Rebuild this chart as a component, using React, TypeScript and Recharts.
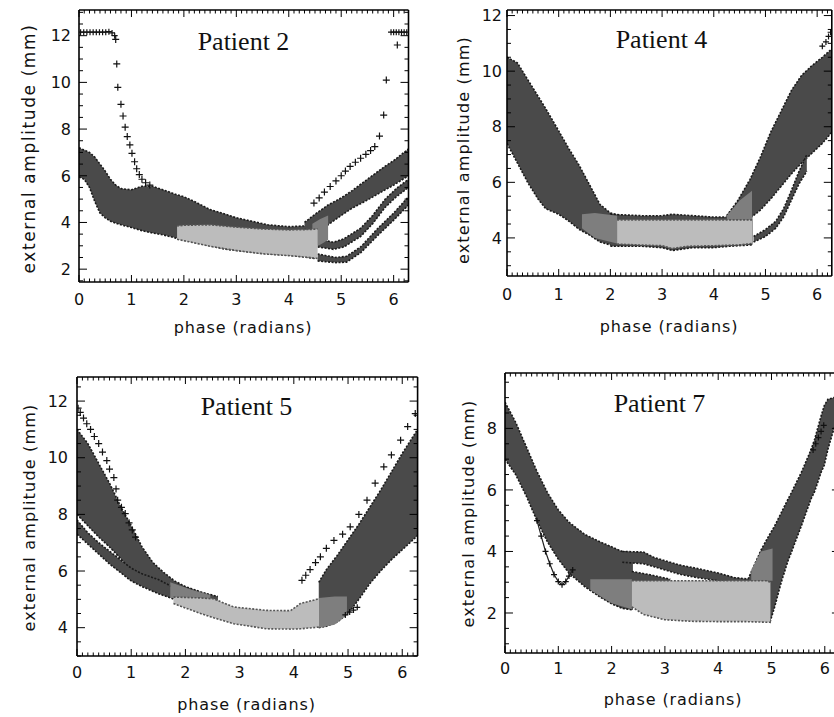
import React from "react";
import { ComposedChart, Area, Scatter, XAxis, YAxis } from "recharts";

// [phase, low, high] rows for the filled bands, [phase, amplitude] for loose crosses
type Row = [number, number, number];
type Pt = [number, number];

const FULL = 6.2832;
const X_LABELS = [0, 1, 2, 3, 4, 5, 6];

// ---------- Patient 2 ----------
const P2_Y_LABELS = [2, 4, 6, 8, 10, 12];
const P2_MAIN: Row[] = [
  [0, 5.95, 7.2], [0.1, 5.85, 7.1], [0.2, 5.5, 7.0], [0.3, 4.9, 6.8], [0.4, 4.4, 6.5],
  [0.5, 4.2, 6.2], [0.6, 4.05, 5.85], [0.7, 3.97, 5.6], [0.8, 3.9, 5.45], [1.0, 3.78, 5.4],
  [1.2, 3.65, 5.55], [1.4, 3.55, 5.55], [1.6, 3.47, 5.4], [1.85, 3.33, 5.2], [2.0, 3.25, 5.1],
  [2.2, 3.15, 4.9], [2.5, 3.0, 4.55], [2.8, 2.85, 4.35], [3.0, 2.8, 4.2], [3.3, 2.72, 4.05],
  [3.6, 2.65, 3.9], [4.0, 2.6, 3.82], [4.3, 2.52, 3.85], [4.5, 2.45, 3.95],
];
const P2_RB: Row[] = [
  [4.3, 3.7, 4.0], [4.5, 3.6, 4.35], [4.75, 3.9, 4.75], [5.0, 4.3, 5.05], [5.2, 4.6, 5.35],
  [5.5, 4.96, 5.85], [5.8, 5.35, 6.35], [6.0, 5.6, 6.65], [6.2832, 6.0, 7.15],
];
const P2_RC: Row[] = [
  [4.55, 2.95, 3.3], [4.85, 2.85, 3.15], [5.05, 2.95, 3.3], [5.37, 3.4, 3.75], [5.6, 3.95, 4.3],
  [5.84, 4.65, 5.0], [6.05, 5.1, 5.45], [6.2832, 5.5, 5.85],
];
const P2_RD: Row[] = [
  [4.55, 2.35, 2.65], [4.9, 2.28, 2.5], [5.1, 2.3, 2.55], [5.37, 2.7, 2.95], [5.7, 3.45, 3.75],
  [6.0, 4.1, 4.4], [6.2832, 4.75, 5.1],
];
const P2_MID: Row[] = [[4.45, 2.95, 3.95], [4.6, 3.05, 4.15], [4.75, 3.25, 4.3]];
const P2_LIGHT: Row[] = [
  [1.87, 3.28, 3.85], [2.0, 3.22, 3.88], [2.5, 2.98, 3.9], [3.0, 2.8, 3.8], [3.5, 2.66, 3.72],
  [4.0, 2.58, 3.68], [4.4, 2.5, 3.7], [4.55, 2.46, 3.72],
];
const P2_TOP_LEFT: Pt[] = [
  [0.03, 12.15], [0.09, 12.15], [0.15, 12.15], [0.21, 12.15], [0.27, 12.15], [0.33, 12.15],
  [0.39, 12.15], [0.45, 12.15], [0.51, 12.15], [0.57, 12.17], [0.63, 12.12], [0.68, 12.0],
];
const P2_LEFT_DROP: Pt[] = [
  [0.7, 11.84], [0.72, 10.79], [0.74, 9.79], [0.8, 9.06], [0.84, 8.56], [0.88, 8.08],
  [0.92, 7.68], [0.97, 7.32], [1.01, 6.96], [1.06, 6.6], [1.1, 6.3], [1.15, 6.05],
  [1.2, 5.85], [1.27, 5.7], [1.35, 5.6],
];
const P2_RIGHT_RISE: Pt[] = [
  [4.48, 4.83], [4.58, 5.05], [4.68, 5.3], [4.79, 5.54], [4.9, 5.78], [5.0, 6.0], [5.08, 6.2],
  [5.17, 6.4], [5.27, 6.58], [5.37, 6.75], [5.47, 6.92], [5.56, 7.08], [5.64, 7.25],
  [5.73, 7.7], [5.81, 8.6], [5.86, 10.1], [6.07, 11.6],
];
const P2_TOP_RIGHT: Pt[] = [
  [5.95, 12.15], [6.0, 12.15], [6.05, 12.15], [6.1, 12.15], [6.15, 12.15], [6.2, 12.15], [6.25, 12.15],
];

// ---------- Patient 4 ----------
const P4_Y_LABELS = [4, 6, 8, 10, 12];
const P4_LEFT: Row[] = [
  [0, 7.4, 10.5], [0.2, 6.7, 10.3], [0.4, 6.0, 9.7], [0.6, 5.4, 9.1], [0.75, 5.05, 8.65],
  [1.0, 4.85, 7.85], [1.2, 4.6, 7.2], [1.4, 4.3, 6.6], [1.6, 4.1, 5.9], [1.8, 3.85, 5.2],
  [2.0, 3.75, 4.9], [2.2, 3.75, 4.8],
];
const P4_BOTTOM: Row[] = [
  [2.0, 3.7, 4.85], [2.6, 3.7, 4.8], [3.0, 3.65, 4.8], [3.2, 3.55, 4.85], [3.6, 3.65, 4.8],
  [4.0, 3.65, 4.75], [4.3, 3.7, 4.75], [4.75, 3.75, 4.7],
];
const P4_RIGHT: Row[] = [
  [4.25, 4.7, 4.8], [4.45, 4.7, 5.3], [4.7, 4.7, 6.1], [4.9, 5.0, 6.9], [5.1, 5.4, 7.8],
  [5.3, 5.85, 8.55], [5.5, 6.3, 9.3], [5.7, 6.7, 9.85], [5.9, 7.05, 10.2], [6.1, 7.4, 10.5],
  [6.2832, 7.8, 10.8],
];
const P4_RLOW: Row[] = [
  [4.77, 3.85, 4.05], [5.0, 4.05, 4.3], [5.2, 4.35, 4.6], [5.35, 4.75, 5.05], [5.5, 5.35, 5.7],
  [5.65, 5.95, 6.4], [5.8, 6.4, 7.0],
];
const P4_MIDL: Row[] = [[1.45, 4.35, 4.85], [1.7, 4.0, 4.9], [2.13, 3.8, 4.8]];
const P4_MIDR: Row[] = [[4.25, 4.65, 4.8], [4.5, 4.65, 5.35], [4.74, 4.65, 5.7]];
const P4_LIGHT: Row[] = [
  [2.13, 3.78, 4.65], [2.5, 3.75, 4.65], [3.0, 3.72, 4.65], [3.2, 3.62, 4.65], [3.5, 3.7, 4.65],
  [4.0, 3.72, 4.65], [4.5, 3.75, 4.65], [4.74, 3.8, 4.65],
];
const P4_TOP_RIGHT: Pt[] = [[6.1, 10.9], [6.17, 11.05], [6.22, 11.25], [6.26, 11.4]];

// ---------- Patient 5 ----------
const P5_Y_LABELS = [4, 6, 8, 10, 12];
const P5_UP: Row[] = [
  [0, 8.0, 11.0], [0.2, 7.6, 10.5], [0.4, 7.2, 9.8], [0.6, 6.85, 9.1], [0.8, 6.45, 8.3],
  [1.0, 6.0, 7.6], [1.2, 5.7, 6.85], [1.4, 5.45, 6.3], [1.6, 5.3, 5.95], [1.8, 5.15, 5.65],
  [2.0, 5.1, 5.45], [2.3, 5.0, 5.25], [2.6, 4.95, 5.1],
];
const P5_LOW: Row[] = [
  [0, 7.3, 7.8], [0.2, 6.95, 7.35], [0.4, 6.6, 7.0], [0.6, 6.25, 6.7], [0.8, 5.95, 6.4],
  [1.0, 5.65, 6.1], [1.2, 5.45, 5.9], [1.5, 5.2, 5.7], [1.8, 5.0, 5.4],
];
const P5_RIGHT: Row[] = [
  [4.46, 4.0, 5.6], [4.6, 4.05, 6.05], [4.8, 4.2, 6.55], [5.0, 4.5, 7.1], [5.2, 5.0, 7.65],
  [5.4, 5.55, 8.25], [5.6, 6.0, 8.85], [5.8, 6.4, 9.5], [6.0, 6.75, 10.15], [6.2832, 7.25, 11.0],
];
const P5_MIDL: Row[] = [[1.72, 5.05, 5.6], [2.1, 5.05, 5.35], [2.46, 5.02, 5.15]];
const P5_MIDR: Row[] = [[4.46, 4.0, 5.05], [4.75, 4.1, 5.1], [4.98, 4.45, 5.1]];
const P5_LIGHT: Row[] = [
  [1.78, 4.85, 5.08], [2.28, 4.5, 5.05], [2.52, 4.35, 5.02], [2.89, 4.14, 4.73], [3.5, 3.96, 4.61],
  [3.94, 3.95, 4.6], [4.12, 3.96, 4.85], [4.46, 4.02, 5.02],
];
const P5_LEFT_FRINGE: Pt[] = [
  [0.02, 11.75], [0.06, 11.6], [0.12, 11.4], [0.18, 11.2], [0.25, 11.0], [0.32, 10.75],
  [0.4, 10.5], [0.47, 10.2], [0.55, 9.9], [0.6, 9.6], [0.68, 9.3], [0.72, 8.9], [0.75, 8.5],
  [0.82, 8.25], [0.89, 8.03], [0.96, 7.7], [1.02, 7.45], [1.08, 7.2],
];
const P5_RIGHT_FRINGE: Pt[] = [
  [4.15, 5.67], [4.22, 5.85], [4.3, 6.05], [4.4, 6.3], [4.49, 6.5], [4.6, 6.8], [4.74, 7.08],
  [4.9, 7.3], [5.04, 7.56], [5.2, 8.0], [5.35, 8.5], [5.5, 9.1], [5.66, 9.68], [5.8, 10.1],
  [5.97, 10.62], [6.1, 11.1], [6.24, 11.56],
];
const P5_LOW_FRINGE: Pt[] = [[4.95, 4.45], [5.03, 4.55], [5.1, 4.62], [5.17, 4.72]];

// ---------- Patient 7 ----------
const P7_Y_LABELS = [2, 4, 6, 8];
const P7_MAIN: Row[] = [
  [0, 7.0, 8.85], [0.2, 6.5, 8.2], [0.4, 5.8, 7.4], [0.6, 5.0, 6.6], [0.8, 4.3, 5.9],
  [1.0, 3.75, 5.35], [1.2, 3.3, 4.95], [1.5, 2.85, 4.55], [1.8, 2.5, 4.3], [2.0, 2.3, 4.15],
  [2.2, 2.15, 4.0], [2.4, 2.1, 3.95],
];
const P7_THIN: Row[] = [
  [2.2, 3.65, 4.0], [2.6, 3.6, 3.98], [2.8, 3.5, 3.8], [3.0, 3.4, 3.7], [3.3, 3.25, 3.55],
  [3.6, 3.15, 3.45], [4.0, 3.05, 3.3], [4.3, 3.0, 3.15], [4.6, 2.95, 3.1],
];
const P7_STRIP: Row[] = [[2.38, 3.0, 3.35], [2.7, 3.0, 3.25], [3.1, 3.0, 3.1]];
const P7_RIGHT: Row[] = [
  [4.56, 3.0, 3.1], [4.81, 2.9, 4.07], [4.98, 1.75, 4.6], [5.06, 2.2, 4.83], [5.18, 2.98, 5.25],
  [5.31, 3.7, 5.7], [5.37, 3.96, 5.9], [5.56, 4.83, 6.57], [5.74, 5.7, 7.3], [5.81, 5.95, 7.65],
  [5.93, 6.57, 8.4], [5.99, 6.8, 8.74], [6.06, 7.33, 8.95], [6.17, 7.98, 9.0], [6.2832, 8.5, 9.0],
];
const P7_MIDL: Row[] = [[1.6, 2.75, 3.1], [2.0, 2.32, 3.1], [2.38, 2.12, 3.1]];
const P7_MIDR: Row[] = [[4.62, 3.05, 3.4], [4.8, 3.05, 4.0], [5.02, 3.05, 4.1]];
const P7_LIGHT: Row[] = [
  [2.38, 2.2, 3.05], [2.6, 1.95, 3.05], [3.0, 1.78, 3.05], [3.5, 1.73, 3.05], [4.0, 1.72, 3.05],
  [4.5, 1.72, 3.05], [4.9, 1.7, 3.05], [4.98, 1.7, 3.0],
];
const P7_LOOP: Pt[] = [
  [0.6, 5.0], [0.68, 4.5], [0.76, 4.0], [0.84, 3.6], [0.92, 3.25], [1.0, 3.02], [1.07, 2.92],
  [1.14, 3.02], [1.2, 3.2], [1.27, 3.4],
];
const P7_RIGHT_LOOSE: Pt[] = [[5.78, 7.3], [5.83, 7.5], [5.88, 7.7], [5.93, 7.9], [5.98, 8.1]];

const DARK = "#4a4a4a";
const MID = "#7e7e7e";
const LIGHT = "#bcbcbc";
const INK = "#111";
const TICK_FONT = "'DejaVu Sans', sans-serif";

const steps = (from: number, to: number, step: number) => {
  const out: number[] = [];
  for (let v = from; v <= to + 1e-9; v += step) out.push(Math.round(v * 100) / 100);
  return out;
};

const X_ALL = steps(0, 6.2, 0.1);
const has = (list: number[], v: number) => list.some((m) => Math.abs(m - v) < 1e-6);

type Band = { rows: Row[]; fill: string; edge: string };
type Marks = { pts: Pt[]; size: number; line?: boolean };
type Panel = {
  key: string;
  box: { left: number; top: number; w: number; h: number };
  yDomain: [number, number];
  yLabels: number[];
  yMinorFrom: number;
  bands: Band[];
  marks: Marks[];
  xGap: number;
  yGap: number;
};

const dark = (rows: Row[]): Band => ({ rows, fill: DARK, edge: "#1a1a1a" });
const mid = (rows: Row[]): Band => ({ rows, fill: MID, edge: "none" });
const light = (rows: Row[]): Band => ({ rows, fill: LIGHT, edge: "#555" });

const PANELS: Panel[] = [
  {
    key: "p2",
    box: { left: 78.5, top: 10, w: 329.5, h: 272 },
    yDomain: [1.45, 13.1],
    yLabels: P2_Y_LABELS,
    yMinorFrom: 1.5,
    bands: [dark(P2_MAIN), dark(P2_RB), dark(P2_RC), dark(P2_RD), mid(P2_MID), light(P2_LIGHT)],
    marks: [
      { pts: P2_TOP_LEFT, size: 3 },
      { pts: P2_LEFT_DROP, size: 3.5 },
      { pts: P2_RIGHT_RISE, size: 3.5 },
      { pts: P2_TOP_RIGHT, size: 3 },
    ],
    xGap: 12,
    yGap: 8,
  },
  {
    key: "p4",
    box: { left: 506.7, top: 10, w: 324.8, h: 266 },
    yDomain: [2.63, 12.2],
    yLabels: P4_Y_LABELS,
    yMinorFrom: 3,
    bands: [dark(P4_LEFT), dark(P4_BOTTOM), dark(P4_RIGHT), dark(P4_RLOW), mid(P4_MIDL), mid(P4_MIDR), light(P4_LIGHT)],
    marks: [{ pts: P4_TOP_RIGHT, size: 3 }],
    xGap: 13,
    yGap: 5,
  },
  {
    key: "p5",
    box: { left: 76.8, top: 377, w: 340.6, h: 279 },
    yDomain: [3.0, 12.85],
    yLabels: P5_Y_LABELS,
    yMinorFrom: 3,
    bands: [dark(P5_UP), dark(P5_LOW), dark(P5_RIGHT), mid(P5_MIDL), mid(P5_MIDR), light(P5_LIGHT)],
    marks: [
      { pts: P5_LEFT_FRINGE, size: 3.5 },
      { pts: P5_RIGHT_FRINGE, size: 3.5 },
      { pts: P5_LOW_FRINGE, size: 3 },
    ],
    xGap: 11,
    yGap: 9,
  },
  {
    key: "p7",
    box: { left: 505.3, top: 373, w: 334.9, h: 280 },
    yDomain: [0.7, 9.8],
    yLabels: P7_Y_LABELS,
    yMinorFrom: 1,
    bands: [dark(P7_MAIN), dark(P7_THIN), dark(P7_STRIP), dark(P7_RIGHT), mid(P7_MIDL), mid(P7_MIDR), light(P7_LIGHT)],
    marks: [
      { pts: P7_LOOP, size: 3, line: true },
      { pts: P7_RIGHT_LOOSE, size: 3 },
    ],
    xGap: 10,
    yGap: 8,
  },
];

// one tick renderer per frame side: inward tick mark, plus a label on bottom/left
const makeTick = (side: "b" | "t" | "l" | "r", major: number[], labels: number[], gap: number) =>
  function Tick(props: any) {
    const { x, y, payload } = props;
    const v = payload.value;
    const big = has(major, v);
    const len = side === "b" || side === "t" ? (big ? 7 : 3.5) : big ? 8 : 4;
    const show = has(labels, v);
    const text = { fontFamily: TICK_FONT, fontSize: 16, fill: INK } as const;
    if (side === "b")
      return (
        <g>
          <line x1={x} y1={y} x2={x} y2={y - len} stroke="#000" />
          {show && (
            <text x={x} y={y + gap} dy="0.71em" textAnchor="middle" {...text}>
              {v}
            </text>
          )}
        </g>
      );
    if (side === "t") return <line x1={x} y1={y} x2={x} y2={y + len} stroke="#000" />;
    if (side === "l")
      return (
        <g>
          <line x1={x} y1={y} x2={x + len} y2={y} stroke="#000" />
          {show && (
            <text x={x - gap} y={y} dy="0.36em" textAnchor="end" {...text}>
              {v}
            </text>
          )}
        </g>
      );
    return <line x1={x} y1={y} x2={x - len} y2={y} stroke="#000" />;
  };

const plus = (size: number) =>
  function Plus(props: any) {
    const { cx, cy } = props;
    if (cx == null || cy == null) return <g />;
    return (
      <path
        d={`M${cx - size},${cy}h${size * 2}M${cx},${cy - size}v${size * 2}`}
        stroke="#111"
        strokeWidth={1.2}
      />
    );
  };

function PanelChart({ p }: { p: Panel }) {
  const { left, top, w, h } = p.box;
  const yAll = steps(p.yMinorFrom, p.yDomain[1], 0.5);
  const frame = { stroke: "#000", strokeWidth: 1.6 };
  return (
    <div style={{ position: "absolute", left: left - 60, top: top - 10 }}>
      <ComposedChart width={w + 70} height={h + 50} margin={{ top: 0, right: 0, bottom: 0, left: 0 }}>
        <XAxis
          xAxisId="b"
          orientation="bottom"
          type="number"
          dataKey="x"
          domain={[0, FULL]}
          allowDataOverflow
          ticks={X_ALL}
          interval={0}
          tickSize={0}
          tickMargin={0}
          tickLine={false}
          axisLine={frame}
          height={40}
          tick={makeTick("b", X_LABELS, X_LABELS, p.xGap)}
        />
        <XAxis
          xAxisId="t"
          orientation="top"
          type="number"
          dataKey="x"
          domain={[0, FULL]}
          allowDataOverflow
          ticks={X_ALL}
          interval={0}
          tickSize={0}
          tickMargin={0}
          tickLine={false}
          axisLine={frame}
          height={10}
          tick={makeTick("t", X_LABELS, [], 0)}
        />
        <YAxis
          yAxisId="l"
          orientation="left"
          type="number"
          dataKey="y"
          domain={p.yDomain}
          allowDataOverflow
          ticks={yAll}
          interval={0}
          tickSize={0}
          tickMargin={0}
          tickLine={false}
          axisLine={frame}
          width={60}
          tick={makeTick("l", p.yLabels, p.yLabels, p.yGap)}
        />
        <YAxis
          yAxisId="r"
          orientation="right"
          type="number"
          dataKey="y"
          domain={p.yDomain}
          allowDataOverflow
          ticks={yAll}
          interval={0}
          tickSize={0}
          tickMargin={0}
          tickLine={false}
          axisLine={frame}
          width={10}
          tick={makeTick("r", p.yLabels, [], 0)}
        />
        {p.bands.map((b, i) => (
          <Area
            key={`${p.key}-band-${i}`}
            xAxisId="b"
            yAxisId="l"
            data={b.rows.map(([x, lo, hi]) => ({ x, r: [lo, hi] }))}
            dataKey="r"
            type="linear"
            fill={b.fill}
            fillOpacity={1}
            stroke={b.edge}
            strokeWidth={b.edge === "none" ? 0 : 1.6}
            strokeDasharray="2 1.5"
            dot={false}
            activeDot={false}
            isAnimationActive={false}
          />
        ))}
        {p.marks.map((m, i) => (
          <Scatter
            key={`${p.key}-marks-${i}`}
            xAxisId="b"
            yAxisId="l"
            data={m.pts.map(([x, y]) => ({ x, y }))}
            shape={plus(m.size)}
            line={m.line ? { stroke: "#222", strokeWidth: 1.2 } : false}
            isAnimationActive={false}
          />
        ))}
      </ComposedChart>
    </div>
  );
}

const TITLES = [
  { text: "Patient 2", x: 243.5, y: 50 },
  { text: "Patient 4", x: 661.5, y: 48 },
  { text: "Patient 5", x: 246.5, y: 415 },
  { text: "Patient 7", x: 659.5, y: 411.5 },
];
const X_TITLES = [
  { x: 243, y: 333 },
  { x: 669, y: 331.5 },
  { x: 246.5, y: 710 },
  { x: 673, y: 705 },
];
const Y_TITLES = [
  { x: 35, y: 148.5, size: 17, spacing: 1.6 },
  { x: 469, y: 150, size: 16, spacing: 1.2 },
  { x: 35, y: 517.5, size: 16, spacing: 1.2 },
  { x: 474, y: 513.5, size: 16, spacing: 1.2 },
];

export default function App() {
  return (
    <div
      style={{
        position: "absolute",
        left: 0,
        top: 0,
        width: 834,
        height: 717,
        overflow: "hidden",
        background: "#fff",
      }}
    >
      {PANELS.map((p) => (
        <PanelChart key={p.key} p={p} />
      ))}
      <svg width={834} height={717} style={{ position: "absolute", left: 0, top: 0, pointerEvents: "none" }}>
        {TITLES.map((t) => (
          <text
            key={t.text}
            x={t.x}
            y={t.y}
            textAnchor="middle"
            fontFamily="'Liberation Serif', 'Times New Roman', serif"
            fontSize={26}
            fill={INK}
          >
            {t.text}
          </text>
        ))}
        {X_TITLES.map((t, i) => (
          <text
            key={`xt-${i}`}
            x={t.x}
            y={t.y}
            textAnchor="middle"
            fontFamily={TICK_FONT}
            fontSize={16}
            letterSpacing={0.9}
            fill={INK}
          >
            phase (radians)
          </text>
        ))}
        {Y_TITLES.map((t, i) => (
          <text
            key={`yt-${i}`}
            transform={`translate(${t.x},${t.y}) rotate(-90)`}
            textAnchor="middle"
            fontFamily={TICK_FONT}
            fontSize={t.size}
            letterSpacing={t.spacing}
            fill={INK}
          >
            external amplitude (mm)
          </text>
        ))}
      </svg>
    </div>
  );
}
